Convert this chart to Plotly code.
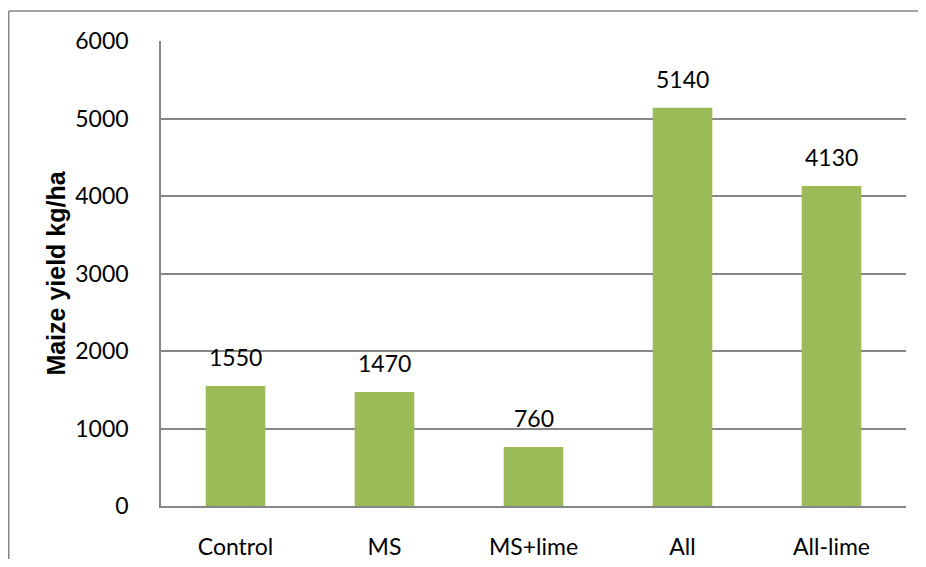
import plotly.graph_objects as go

categories = ["Control", "MS", "MS+lime", "All", "All-lime"]
yields = [1550, 1470, 760, 5140, 4130]
y_ticks = [0, 1000, 2000, 3000, 4000, 5000, 6000]

# page body has an 8px margin; figure sized to fit the window without scrolling
W, H = 910, 551
L, R, T, B = 153, 12, 33, 53
pw, ph = W - L - R, H - T - B
FONT = "Lato"

fig = go.Figure(go.Bar(
    x=categories, y=yields,
    marker=dict(color="#9BBB59", line=dict(width=0)),
    cliponaxis=False,
))

annotations = [dict(x=c, y=v, xref="x", yref="y", text=str(v), showarrow=False,
                    yanchor="bottom", yshift=13,
                    font=dict(family=FONT, size=23, color="#000000"))
               for c, v in zip(categories, yields)]

bx0 = (0.75 - L) / pw
by1 = (H - B - 3) / ph
fig.update_layout(
    width=W, height=H,
    margin=dict(l=L, r=R, t=T, b=B, pad=0),
    paper_bgcolor="white", plot_bgcolor="white",
    bargap=0.6, showlegend=False,
    font=dict(family=FONT, size=23, color="#000000"),
    xaxis=dict(showgrid=False, showline=True, linecolor="#868686", linewidth=1.5,
               ticks="", ticklabelstandoff=20, automargin=False,
               tickfont=dict(family=FONT, size=23)),
    yaxis=dict(range=[0, 6000], tickvals=y_ticks, showgrid=True, gridcolor="#868686",
               gridwidth=1.5, showline=True, linecolor="#868686", linewidth=1.5,
               ticks="", ticklabelstandoff=26, zeroline=False, automargin=False,
               tickfont=dict(family=FONT, size=23),
               title=dict(text="<b>Maize yield kg/ha</b>", standoff=3,
                          font=dict(family="Liberation Sans", size=25))),
    annotations=annotations,
    shapes=[
        dict(type="line", xref="paper", yref="paper", x0=bx0, x1=(W + 5 - L) / pw,
             y0=by1, y1=by1, line=dict(color="#868686", width=1.5), layer="below"),
        dict(type="line", xref="paper", yref="paper", x0=bx0, x1=bx0,
             y0=by1, y1=-(B + 5) / ph, line=dict(color="#868686", width=1.5), layer="below"),
    ],
)

fig.write_html("out.html")
